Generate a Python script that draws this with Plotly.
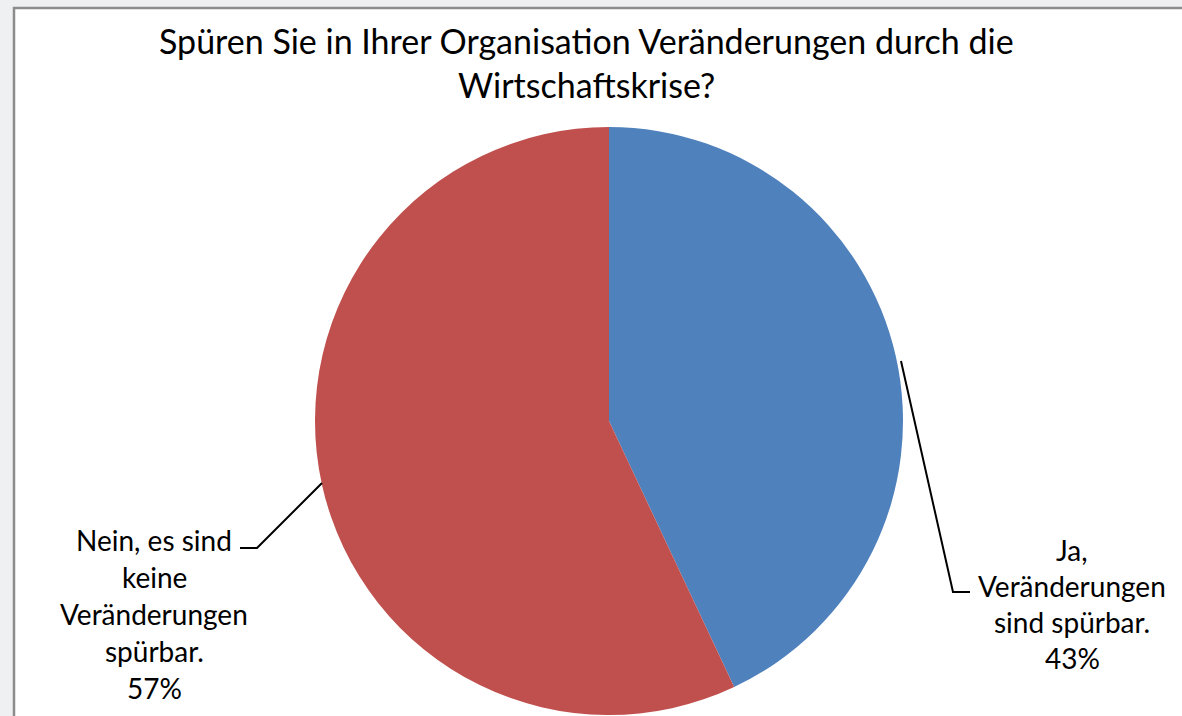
import plotly.graph_objects as go

# ---- data ----
categories = ["Ja, Veränderungen sind spürbar.", "Nein, es sind keine Veränderungen spürbar."]
values = [43, 57]
colors = ["#4F81BD", "#C0504D"]
label_lines = [
    ["Ja,", "Veränderungen", "sind spürbar."],
    ["Nein, es sind", "keine", "Veränderungen", "spürbar."],
]
title_lines = ["Spüren Sie in Ihrer Organisation Veränderungen durch die", "Wirtschaftskrise?"]

W, H = 1182, 716
FONT = "Lato"

def px(x):
    return x / W

def py(y):
    return 1 - y / H

# pie geometry (pixels)
cx, cy, r = 609, 421, 294

fig = go.Figure()
fig.add_trace(go.Pie(
    labels=categories,
    values=values,
    marker=dict(colors=colors, line=dict(width=0)),
    sort=False,
    direction="clockwise",
    rotation=0,
    textinfo="none",
    hoverinfo="label+percent",
    showlegend=False,
    domain=dict(x=[px(cx - r), px(cx + r)], y=[max(0, py(cy + r)), py(cy - r)]),
))

total = sum(values)
annotations = []
# title
title_y = [40, 84]
for t, yy in zip(title_lines, title_y):
    annotations.append(dict(text=t, x=px(586), y=py(yy), xref="paper", yref="paper",
                            xanchor="center", yanchor="middle", showarrow=False,
                            font=dict(family=FONT, size=34, color="#000000")))

# data labels
label_pos = [(1072, 550, 36), (154, 540, 37)]
for lines, v, (lx, ly, step) in zip(label_lines, values, label_pos):
    pct = f"{round(100 * v / total)}%"
    for i, t in enumerate(lines + [pct]):
        annotations.append(dict(text=t, x=px(lx), y=py(ly + i * step), xref="paper", yref="paper",
                                xanchor="center", yanchor="middle", showarrow=False,
                                font=dict(family=FONT, size=28, color="#000000")))

# leader lines (pixel polylines)
leaders = [
    [(901, 361), (953, 592), (970, 592)],
    [(322, 483), (257, 548), (240, 548)],
]
shapes = [
    dict(type="rect", xref="paper", yref="paper", x0=px(14), x1=1.02, y0=-0.02, y1=py(8),
         fillcolor="#FFFFFF", line=dict(color="#8C8C8C", width=2.5), layer="below"),
]
for pts in leaders:
    path = "M " + " L ".join(f"{px(x)},{py(y)}" for x, y in pts)
    shapes.append(dict(type="path", xref="paper", yref="paper", path=path,
                       line=dict(color="#000000", width=2)))

fig.update_layout(
    width=W, height=H,
    margin=dict(l=0, r=0, t=0, b=0),
    paper_bgcolor="#EEF0F2",
    plot_bgcolor="#FFFFFF",
    annotations=annotations,
    shapes=shapes,
)

fig.write_html("out.html",
               config={"displayModeBar": False},
               post_script="document.body.style.margin='0';document.body.style.overflow='hidden';")
